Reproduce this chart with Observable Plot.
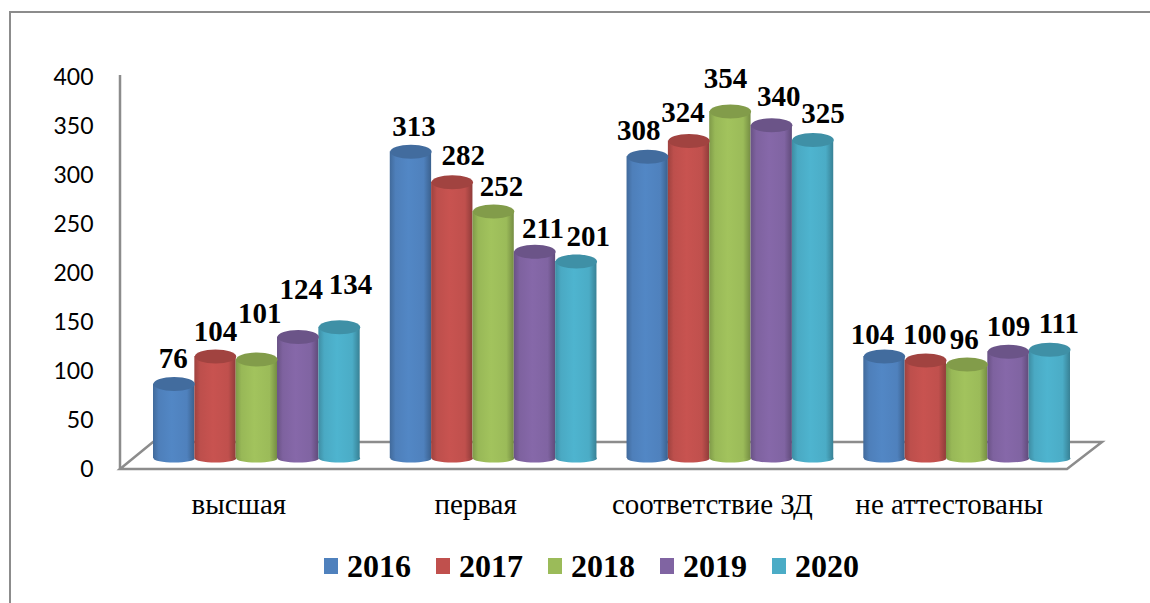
<!DOCTYPE html>
<html><head><meta charset="utf-8">
<style>
html,body{margin:0;padding:0;background:#fff;width:1150px;height:603px;overflow:hidden}
#frame{position:absolute;left:9px;top:11px;right:0;bottom:0;border-left:2px solid #8c8c8c;border-top:2px solid #8c8c8c;pointer-events:none}
#chart{position:absolute;left:0;top:0}
#chart svg{display:block;overflow:visible;background:transparent}
#legend{position:absolute;left:324px;top:546px;height:40px;display:flex;align-items:center;font:bold 32px "Liberation Serif",serif;color:#000}
#legend .item{display:flex;align-items:center;width:112px}
#legend .sw{width:14px;height:16px;margin-right:9px;flex:none}
</style>
<script src="https://cdn.jsdelivr.net/npm/d3@7"></script>
<script src="https://cdn.jsdelivr.net/npm/@observablehq/plot@0.6"></script>
</head><body>
<div id="frame"></div><div id="chart"></div><div id="legend"></div>
<script>
const categories = ["высшая","первая","соответствие ЗД","не аттестованы"];
const years = ["2016","2017","2018","2019","2020"];
const v2016 = [76,313,308,104];
const v2017 = [104,282,324,100];
const v2018 = [101,252,354,96];
const v2019 = [124,211,340,109];
const v2020 = [134,201,325,111];
const series = [v2016,v2017,v2018,v2019,v2020];
const colors = ["#4f81bd","#c0504d","#9bbb59","#8064a2","#4bacc6"];
const yTicks = [0,50,100,150,200,250,300,350,400];

// hand-placed data label offsets, one row per category
const labelDx = [[-1,0,3,3,11],[3,11,8,8,12],[-9,-6,-5,7,10],[-12,-1,-3,0,9]];
const labelDy = [[-34,-34,-55,-56,-51],[-34,-35,-34,-32,-34],[-35,-37,-42,-38,-35],[-31,-35,-34,-34,-35]];

const rows = categories.flatMap((category,c) => years.map((year,s) => ({
  category, year, value: series[s][c], c, s
})));

// cylinder shading
const defs = d3.select("body").append("svg").attr("width",0).attr("height",0)
  .style("position","absolute").append("defs");
colors.forEach((col,i) => {
  const g = defs.append("linearGradient").attr("id","cyl"+i);
  const base = d3.color(col);
  [[0,base.darker(0.55)],[0.14,base.darker(0.05)],[0.45,base.brighter(0.12)],[0.82,base],[1,base.darker(0.8)]]
    .forEach(([o,c]) => g.append("stop").attr("offset",o).attr("stop-color",c.formatHex()));
});
const cyl = d => `url(#cyl${d.s})`;
const cap = d => d3.color(colors[d.s]).darker(0.5).formatHex();

const ellipse = (rx,ry) => ({draw(ctx){
  const k = 0.5523;
  ctx.moveTo(-rx,0);
  ctx.bezierCurveTo(-rx,-ry*k,-rx*k,-ry,0,-ry);
  ctx.bezierCurveTo(rx*k,-ry,rx,-ry*k,rx,0);
  ctx.bezierCurveTo(rx,ry*k,rx*k,ry,0,ry);
  ctx.bezierCurveTo(-rx*k,ry,-rx,ry*k,-rx,0);
  ctx.closePath();
}});

const serif = "Liberation Serif";
const lift = -9;

const floor = Plot.dot([0], {
  facet: "super",
  frameAnchor: "middle",
  render(index, scales, values, dims) {
    const y0 = scales.y(0), yTop = scales.y(400);
    const left = dims.marginLeft - 33, right = dims.width - 83;
    const g = d3.create("svg:g").attr("fill","none").attr("stroke","#8c8c8c").attr("stroke-width",2.5);
    g.append("path").attr("fill","#fff")
      .attr("d",`M${left},${y0+2}L${left+33},${y0-25}H${right+35}L${right},${y0+2}Z`);
    g.append("path").attr("d",`M${left},${yTop}V${y0+2}`);
    return g.node();
  }
});

const marks = [
  floor,
  Plot.dot(rows,{x:"year",y:()=>0,fx:"category",fill:{value:cyl,scale:null},symbol:ellipse(20.7,4),dy:lift}),
  Plot.barY(rows,{x:"year",y1:()=>0,y2:"value",fx:"category",fill:{value:cyl,scale:null},dy:lift}),
  Plot.dot(rows,{x:"year",y:"value",fx:"category",fill:{value:cap,scale:null},symbol:ellipse(20.7,7),dy:lift}),
  ...rows.map(d => Plot.text([d],{
    x:"year",y:"value",fx:"category",text:"value",
    dx:labelDx[d.c][d.s],dy:labelDy[d.c][d.s],
    fontFamily:serif,fontWeight:"bold",fontSize:29,fill:"#000"
  })),
  Plot.axisY({anchor:"left",ticks:yTicks,tickSize:0,tickPadding:0,dx:-60,dy:2,label:null,
    fontFamily:"Lato",fontSize:23,fill:"#000",tickFormat:d=>String(d)}),
  Plot.axisFx({anchor:"bottom",tickSize:0,tickPadding:0,dx:-18,dy:26,label:null,
    fontFamily:serif,fontSize:29,fill:"#000"})
];

const chart = Plot.plot({
  width:1150,height:546,
  marginLeft:153,marginRight:80,marginTop:75,marginBottom:79,
  style:{background:"transparent",overflow:"visible"},
  fx:{domain:categories,padding:0.127,label:null,round:false},
  x:{domain:years,padding:0,axis:null,round:false},
  y:{domain:[0,400],label:null},
  marks
});
document.getElementById("chart").append(chart);

const legend = d3.select("#legend");
years.forEach((y,i) => {
  const it = legend.append("div").attr("class","item");
  it.append("span").attr("class","sw").style("background",colors[i]);
  it.append("span").text(y);
});
</script>
</body></html>
